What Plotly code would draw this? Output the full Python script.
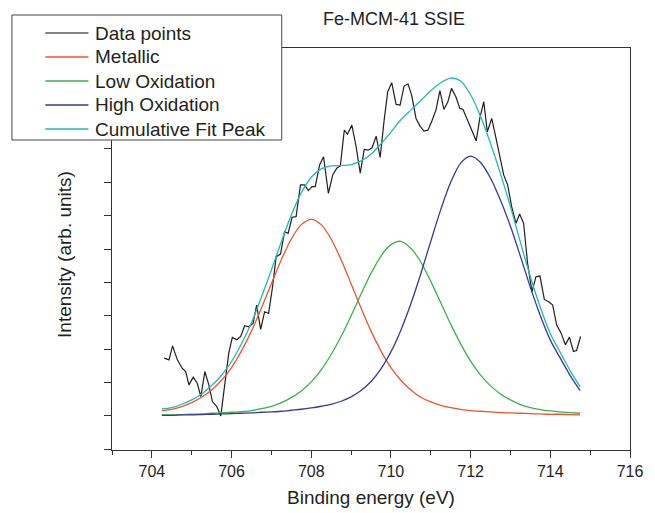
import plotly.graph_objects as go

# ---------------- data ----------------
data_x = [704.31, 704.43, 704.52, 704.64, 704.76, 704.85, 704.93, 705.04, 705.14, 705.23,
          705.33, 705.43, 705.52, 705.63, 705.73, 705.85, 705.93, 706.02, 706.13, 706.23,
          706.33, 706.43, 706.54, 706.63, 706.73, 706.83, 706.93, 707.03, 707.12, 707.23,
          707.33, 707.42, 707.52, 707.62, 707.73, 707.83, 707.93, 708.02, 708.10, 708.21,
          708.31, 708.43, 708.54, 708.64, 708.73, 708.83, 708.91, 709.02, 709.13, 709.23,
          709.33, 709.43, 709.53, 709.63, 709.73, 709.83, 709.92, 710.02, 710.13, 710.23,
          710.33, 710.43, 710.52, 710.63, 710.73, 710.83, 710.93, 711.03, 711.13, 711.23,
          711.33, 711.43, 711.52, 711.63, 711.73, 711.81, 711.92, 712.03, 712.14, 712.23,
          712.33, 712.42, 712.53, 712.63, 712.74, 712.83, 712.93, 713.03, 713.14, 713.23,
          713.33, 713.43, 713.54, 713.64, 713.74, 713.85, 713.96, 714.06, 714.16, 714.27,
          714.38, 714.48, 714.58, 714.66, 714.76]
data_y = [1.73, 1.68, 2.10, 1.68, 1.43, 1.33, 0.93, 1.16, 0.98, 0.58,
          1.33, 0.93, 0.43, 0.28, 0.00, 1.18, 1.88, 2.35, 2.28, 2.38,
          2.70, 2.67, 2.77, 3.32, 2.59, 3.12, 3.07, 3.87, 4.77, 4.85,
          5.52, 5.47, 5.95, 5.97, 6.92, 6.92, 6.75, 6.87, 6.87, 7.52,
          7.76, 6.67, 7.22, 7.42, 7.49, 8.56, 8.44, 8.71, 8.04, 7.27,
          7.98, 7.96, 8.04, 8.38, 7.74, 8.86, 9.71, 9.98, 9.33, 9.31,
          9.88, 9.94, 9.61, 8.91, 8.68, 8.53, 8.56, 8.84, 9.16, 9.74,
          9.18, 9.41, 9.81, 9.56, 9.21, 9.18, 8.86, 8.51, 8.24, 8.91,
          9.41, 8.51, 8.91, 8.36, 7.71, 7.22, 6.92, 6.27, 5.77, 6.05,
          5.77, 4.57, 3.72, 4.17, 4.19, 3.49, 3.42, 3.32, 2.72, 2.48,
          2.13, 2.36, 1.93, 1.96, 2.38]

fit_x = [704.25, 704.5, 704.75, 705.0, 705.25, 705.5, 705.75, 706.0, 706.25, 706.5,
         706.75, 707.0, 707.25, 707.5, 707.75, 708.0, 708.25, 708.5, 708.75, 709.0,
         709.25, 709.5, 709.75, 710.0, 710.25, 710.5, 710.75, 711.0, 711.25, 711.5,
         711.75, 712.0, 712.25, 712.5, 712.75, 713.0, 713.25, 713.5, 713.75, 714.0,
         714.25, 714.5, 714.75]
metallic = [0.16, 0.20, 0.28, 0.40, 0.56, 0.78, 1.07, 1.45, 1.95, 2.54,
            3.23, 3.96, 4.68, 5.30, 5.73, 5.89, 5.73, 5.30, 4.68, 3.96,
            3.23, 2.54, 1.95, 1.45, 1.07, 0.78, 0.56, 0.42, 0.32, 0.25,
            0.20, 0.16, 0.14, 0.12, 0.10, 0.09, 0.08, 0.07, 0.06, 0.05,
            0.05, 0.04, 0.03]
low_ox = [0.03, 0.03, 0.04, 0.05, 0.06, 0.08, 0.09, 0.11, 0.13, 0.16,
          0.22, 0.29, 0.40, 0.55, 0.75, 1.02, 1.38, 1.84, 2.38, 3.00,
          3.65, 4.27, 4.79, 5.13, 5.23, 5.02, 4.61, 4.03, 3.39, 2.75,
          2.16, 1.64, 1.22, 0.90, 0.66, 0.48, 0.34, 0.25, 0.19, 0.15,
          0.12, 0.10, 0.08]
high_ox = [0.02, 0.02, 0.03, 0.03, 0.04, 0.05, 0.06, 0.07, 0.08, 0.09,
           0.11, 0.12, 0.14, 0.17, 0.20, 0.24, 0.29, 0.35, 0.44, 0.57,
           0.76, 1.03, 1.41, 1.92, 2.57, 3.36, 4.26, 5.23, 6.18, 7.00,
           7.57, 7.78, 7.59, 7.12, 6.46, 5.68, 4.78, 3.85, 3.00, 2.27,
           1.73, 1.21, 0.76]
cumulative = [0.21, 0.25, 0.35, 0.48, 0.66, 0.91, 1.22, 1.63, 2.16, 2.79,
              3.56, 4.37, 5.22, 6.02, 6.68, 7.15, 7.40, 7.49, 7.50, 7.53,
              7.64, 7.84, 8.15, 8.50, 8.87, 9.16, 9.45, 9.74, 9.98, 10.12,
              10.03, 9.62, 8.97, 8.16, 7.25, 6.27, 5.20, 4.17, 3.25, 2.47,
              1.90, 1.35, 0.87]

x_ticks = [704, 706, 708, 710, 712, 714, 716]

names = ["Data points", "Metallic", "Low Oxidation", "High Oxidation", "Cumulative Fit Peak"]
colors = ["#231f20", "#f0532b", "#36b34a", "#343a96", "#1dbcb8"]

FONT = "Liberation Sans, Arial, Helvetica, sans-serif"
TXT = "#231f20"

fig = go.Figure()
fig.add_trace(go.Scatter(x=data_x, y=data_y, mode="lines", name=names[0],
                         line=dict(color=colors[0], width=1.2), showlegend=False))
for nm, col, ys in zip(names[1:], colors[1:], [metallic, low_ox, high_ox, cumulative]):
    fig.add_trace(go.Scatter(x=fit_x, y=ys, mode="lines", name=nm,
                             line=dict(color=col, width=1.3, shape="spline", smoothing=0.8),
                             showlegend=False))

# ---------------- layout ----------------
L, R, T, B = 112, 15, 48, 63
W, H = 655, 513
pw, ph = W - L - R, H - T - B

def px(xp):
    return (xp - L) / pw

def py(yp):
    return (H - B - yp) / ph

fig.update_layout(
    width=W, height=H,
    margin=dict(l=L, r=R, t=T, b=B, pad=0),
    paper_bgcolor="white", plot_bgcolor="white",
    font=dict(family=FONT, color=TXT),
    showlegend=False,
    xaxis=dict(range=[703, 716], tickmode="array", tickvals=x_ticks,
               ticktext=[str(v) for v in x_ticks],
               ticks="outside", ticklen=7, tickwidth=1, tickcolor="#333",
               minor=dict(ticks="outside", ticklen=4, tickwidth=1, tickcolor="#333",
                          tick0=703, dtick=1),
               showline=True, linecolor="#333", linewidth=1, mirror=True,
               showgrid=False, zeroline=False,
               tickfont=dict(size=16, family=FONT, color=TXT)),
    yaxis=dict(range=[-1.02, 11.02], tick0=0, dtick=1,
               ticks="outside", ticklen=7, tickwidth=1, tickcolor="#333",
               showticklabels=False,
               showline=True, linecolor="#333", linewidth=1, mirror=True,
               showgrid=False, zeroline=False),
)

annotations = [
    dict(text="Fe-MCM-41 SSIE", x=px(399), y=py(19), xref="paper", yref="paper",
         showarrow=False, xanchor="center", yanchor="middle",
         font=dict(size=18, family=FONT, color=TXT)),
    dict(text="Binding energy (eV)", x=px(376), y=py(497), xref="paper", yref="paper",
         showarrow=False, xanchor="center", yanchor="middle",
         font=dict(size=19, family=FONT, color=TXT)),
    dict(text="Intensity (arb. units)", x=px(63), y=py(254), xref="paper", yref="paper",
         showarrow=False, xanchor="center", yanchor="middle", textangle=-90,
         font=dict(size=19, family=FONT, color=TXT)),
]

# manual legend box
shapes = [dict(type="rect", xref="paper", yref="paper",
               x0=px(10), x1=px(285), y0=py(140), y1=py(15),
               fillcolor="white", line=dict(color="#444", width=1), layer="above")]
rows = [33, 57, 81, 105, 129]
for nm, col, ry in zip(names, colors, rows):
    shapes.append(dict(type="line", xref="paper", yref="paper",
                       x0=px(44), x1=px(88), y0=py(ry), y1=py(ry),
                       line=dict(color=col, width=2 if nm != "Data points" else 1.5),
                       layer="above", opacity=0.75))
    annotations.append(dict(text=nm, x=px(93), y=py(ry), xref="paper", yref="paper",
                            showarrow=False, xanchor="left", yanchor="middle",
                            font=dict(size=19, family=FONT, color=TXT)))

fig.update_layout(shapes=shapes, annotations=annotations)

fig.write_html("out.html")
